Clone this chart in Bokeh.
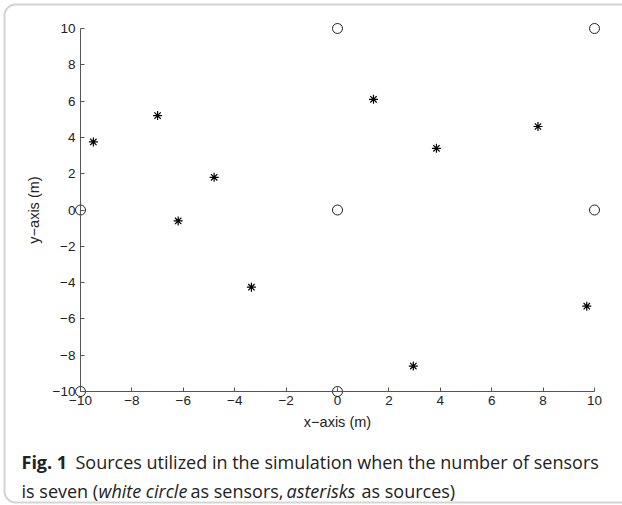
from bokeh.plotting import figure
from bokeh.models import Range1d, FixedTicker, Label, BoxAnnotation
from bokeh.embed import file_html
from bokeh.resources import INLINE

# sensors (white circles)
sensor_x = [0, 10, -10, 0, 10, -10, 0]
sensor_y = [10, 10, 0, 0, 0, -10, -10]

# sources (asterisks)
source_x = [-9.5, -7.0, -6.2, -4.8, -3.35, 1.4, 3.85, 2.95, 7.8, 9.7]
source_y = [3.75, 5.2, -0.6, 1.8, -4.25, 6.1, 3.4, -8.6, 4.6, -5.3]

tick_values = [-10, -8, -6, -4, -2, 0, 2, 4, 6, 8, 10]
tick_labels = ["\u221210", "\u22128", "\u22126", "\u22124", "\u22122", "0", "2", "4", "6", "8", "10"]

x_label = "x\u2212axis (m)"
y_label = "y\u2212axis (m)"

caption_bold = "Fig. 1"
caption_line1 = "Sources utilized in the simulation when the number of sensors"
caption_line2_parts = [("is seven (", "normal"), ("white circle", "italic"),
                       ("as sensors,", "normal"), ("asterisks", "italic"),
                       ("as sources)", "normal")]

# layout: the frame covers the whole canvas; the data box -10..10 sits inside it
W, H = 622, 505
ax_left, ax_right, ax_top, ax_bottom = 80, 594, 28, 391
sx = (ax_right - ax_left) / 20.0
sy = (ax_bottom - ax_top) / 20.0
x_rng = Range1d(-10 - ax_left / sx, 10 + (W - ax_right) / sx)
y_rng = Range1d(-10 - (H - ax_bottom) / sy, 10 + ax_top / sy)

p = figure(width=W, height=H, output_backend="svg", toolbar_location=None, title=None,
           x_range=x_rng, y_range=y_rng,
           min_border_left=0, min_border_right=0, min_border_top=0, min_border_bottom=0)
p.outline_line_color = None
p.grid.visible = False
p.background_fill_color = "white"
p.border_fill_color = "white"

label_font = "Liberation Sans"
overrides = {v: t for v, t in zip(tick_values, tick_labels)}
for ax, lab in ((p.xaxis[0], x_label), (p.yaxis[0], y_label)):
    ax.fixed_location = -10
    ax.bounds = (-10, 10)
    ax.ticker = FixedTicker(ticks=tick_values)
    ax.major_label_overrides = overrides
    ax.major_tick_in = 4
    ax.major_tick_out = 0
    ax.minor_tick_line_color = None
    ax.axis_line_color = "#555555"
    ax.major_tick_line_color = "#555555"
    ax.major_label_text_font = label_font
    ax.major_label_text_font_size = "13.5px"
    ax.major_label_text_color = "#222222"
    ax.axis_label = lab
    ax.axis_label_text_font = label_font
    ax.axis_label_text_font_size = "14.5px"
    ax.axis_label_text_font_style = "normal"
    ax.axis_label_text_color = "#222222"
p.xaxis[0].major_label_standoff = 4
p.xaxis[0].axis_label_standoff = 6
p.yaxis[0].major_label_standoff = 5
p.yaxis[0].axis_label_standoff = 8

p.scatter(source_x, source_y, marker="asterisk", size=9, line_color="black", line_width=1.2)
p.scatter(sensor_x, sensor_y, marker="circle", size=10, line_color="#222222",
          fill_color=None, line_width=1)

# caption (screen units: from the bottom-left of the canvas)
cap_font = "Open Sans"
cap_size = "18px"
y1 = H - 461
y2 = H - 490
p.add_layout(Label(x=21, y=y1, x_units="screen", y_units="screen", text=caption_bold,
                   text_font=cap_font, text_font_size=cap_size, text_font_style="bold",
                   text_color="#222222", text_baseline="alphabetic"))
p.add_layout(Label(x=75, y=y1, x_units="screen", y_units="screen", text=caption_line1,
                   text_font=cap_font, text_font_size=cap_size,
                   text_color="#222222", text_baseline="alphabetic"))
xs = [21, 98, 190, 286, 361]
for (t, st), x in zip(caption_line2_parts, xs):
    p.add_layout(Label(x=x, y=y2, x_units="screen", y_units="screen", text=t,
                       text_font=cap_font, text_font_size=cap_size, text_font_style=st,
                       text_color="#222222", text_baseline="alphabetic"))

# rounded frame around the figure
p.add_layout(BoxAnnotation(left=4, right=W + 20, top=H - 4, bottom=3,
                           left_units="screen", right_units="screen",
                           top_units="screen", bottom_units="screen",
                           fill_color=None, line_color="#707070", line_width=2,
                           border_radius=11))

open("out.html", "w").write(file_html(p, INLINE))
